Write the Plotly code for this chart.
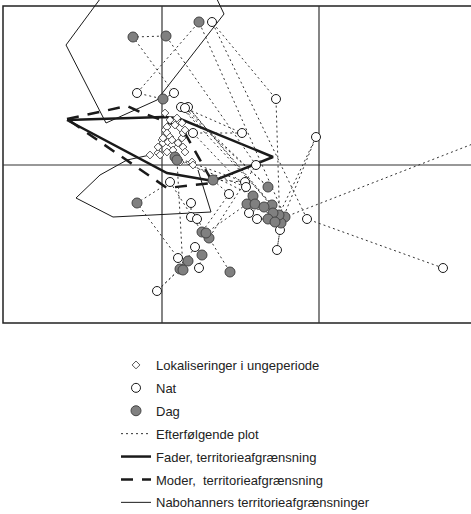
import plotly.graph_objects as go

# ---- data (map units; grid cell = 158 units) ----
# chronological plots: sequence id, x, y, type (N = nat, D = dag)
plot_seq = [1]*11 + [2]*31 + [3]*15
plot_x = [557, 282, 196, 134, 160, 171, 130, 163, 253, 206, 227,
          440, 304, 209, 273, 277, 274, 278, 313, 276, 185, 269, 178, 265, 182, 239, 190, 250, 172, 242, 210,
          226, 199, 167, 134, 175, 185, 154, 177, 192, 199, 196,
          188, 188, 194, 203, 244, 252, 246, 261, 270, 254, 265, 272, 243, 174, 180]
plot_y = [213, 106, 301, 230, 224, 230, 286, 287, 158, 85, 51,
          55, 104, 301, 224, 93, 73, 100, 186, 108, 216, 118, 216, 136, 215, 190, 190, 127, 166, 141, 143,
          129, 91, 141, 120, 65, 62, 32, 54, 76, 68, 55,
          120, 106, 104, 90, 119, 119, 110, 116, 110, 104, 104, 101, 136, 163, 53]
plot_type = ["N", "D", "D", "N", "D", "N", "D", "D", "N", "D", "D",
             "N", "N", "N", "N", "N", "N", "D", "N", "D", "N", "D", "N", "D", "N", "N", "N", "D", "D", "N", "D",
             "N", "D", "N", "D", "N", "D", "N", "D", "N", "D", "N",
             "N", "N", "N", "D", "D", "D", "N", "D", "D", "N", "D", "D", "N", "D", "D"]

# locations during the chick period
chick_x = [147, 155, 157, 159, 160, 160, 162, 164, 164, 167, 165, 169, 175, 179, 180, 177, 179, 174,
           170, 164, 155, 180, 182, 189, 177, 190, 169, 182, 172, 167, 162]
chick_y = [168, 170, 168, 183, 180, 185, 193, 196, 190, 186, 181, 178, 180, 185, 190, 195, 200, 205,
           173, 171, 176, 176, 171, 161, 161, 158, 183, 193, 198, 203, 210]

# territory boundaries
father_x = [64, 160, 175, 270, 210, 164, 64]
father_y = [203, 206, 205, 166, 142, 150, 203]
mother_x = [64, 124, 135, 179, 210, 164, 64]
mother_y = [204, 217, 212, 195, 140, 135, 204]
neigh_x = [100, 63, 103, 154, 221, 212, None, 147, 124, 97, 73, 110, 208, 199, 195]
neigh_y = [328, 278, 200, 223, 309, 328, None, 168, 163, 148, 125, 106, 111, 140, 153]

# grid (map sheet lines)
grid_x = [0, 159, 316, 474]
grid_y = [0, 158, 317]

labels = ["Lokaliseringer i ungeperiode", "Nat", "Dag", "Efterfølgende plot",
          "Fader, territorieafgrænsning", "Moder,  territorieafgrænsning",
          "Nabohanners territorieafgrænsninger"]

# ---- build ----
line_x, line_y = [], []
prev = None
for s, x, y in zip(plot_seq, plot_x, plot_y):
    if prev is not None and s != prev:
        line_x.append(None)
        line_y.append(None)
    line_x.append(x)
    line_y.append(y)
    prev = s

night_x = [x for x, t in zip(plot_x, plot_type) if t == "N"]
night_y = [y for y, t in zip(plot_y, plot_type) if t == "N"]
day_x = [x for x, t in zip(plot_x, plot_type) if t == "D"]
day_y = [y for y, t in zip(plot_y, plot_type) if t == "D"]

ink = "#1a1a1a"
fig = go.Figure()

def add(tr, rank):
    tr.legendrank = rank
    tr.legendgroup = "g%d" % rank
    fig.add_trace(tr)

add(go.Scatter(x=neigh_x, y=neigh_y, mode="lines", name=labels[6],
               line=dict(color=ink, width=1)), 7)
add(go.Scatter(x=father_x, y=father_y, mode="lines", name=labels[4],
               line=dict(color=ink, width=2.5)), 5)
add(go.Scatter(x=mother_x, y=mother_y, mode="lines", name=labels[5],
               line=dict(color=ink, width=2.5, dash="12px,9px")), 6)
add(go.Scatter(x=line_x, y=line_y, mode="lines", name=labels[3],
               line=dict(color="#333333", width=1, dash="2px,3px")), 4)
add(go.Scatter(x=chick_x, y=chick_y, mode="markers", name=labels[0],
               marker=dict(symbol="diamond", size=6, color="white",
                           line=dict(color="#555555", width=1))), 1)
add(go.Scatter(x=night_x, y=night_y, mode="markers", name=labels[1],
               marker=dict(symbol="circle", size=9, color="white",
                           line=dict(color=ink, width=1))), 2)
add(go.Scatter(x=day_x, y=day_y, mode="markers", name=labels[2],
               marker=dict(symbol="circle", size=10, color="#808080",
                           line=dict(color="#444444", width=1))), 3)

shapes = [dict(type="rect", xref="x", yref="y", x0=grid_x[0], x1=grid_x[-1], y0=grid_y[0], y1=grid_y[-1],
               line=dict(color="#222222", width=1.5), layer="below")]
for gx in grid_x[1:-1]:
    shapes.append(dict(type="line", xref="x", yref="y", x0=gx, x1=gx, y0=grid_y[0], y1=grid_y[-1],
                       line=dict(color="#333333", width=1.2), layer="below"))
for gy in grid_y[1:-1]:
    shapes.append(dict(type="line", xref="x", yref="y", x0=grid_x[0], x1=grid_x[-1], y0=gy, y1=gy,
                       line=dict(color="#333333", width=1.2), layer="below"))

fig.update_layout(
    width=471, height=514, autosize=False,
    margin=dict(l=0, r=0, t=0, b=184, autoexpand=False),
    paper_bgcolor="white", plot_bgcolor="white",
    font=dict(family="Liberation Sans, Arial, sans-serif", size=13, color="#222222"),
    xaxis=dict(range=[-3, 468], visible=False, fixedrange=True),
    yaxis=dict(range=[-7, 323], visible=False, fixedrange=True),
    shapes=shapes,
    showlegend=True,
    legend=dict(x=116/471, y=-20/330, xanchor="left", yanchor="top", tracegroupgap=3,
                bgcolor="rgba(0,0,0,0)", traceorder="grouped", itemsizing="trace"),
)

fig.write_html("out.html", config={"displayModeBar": False},
               post_script="document.body.style.margin='0';")
